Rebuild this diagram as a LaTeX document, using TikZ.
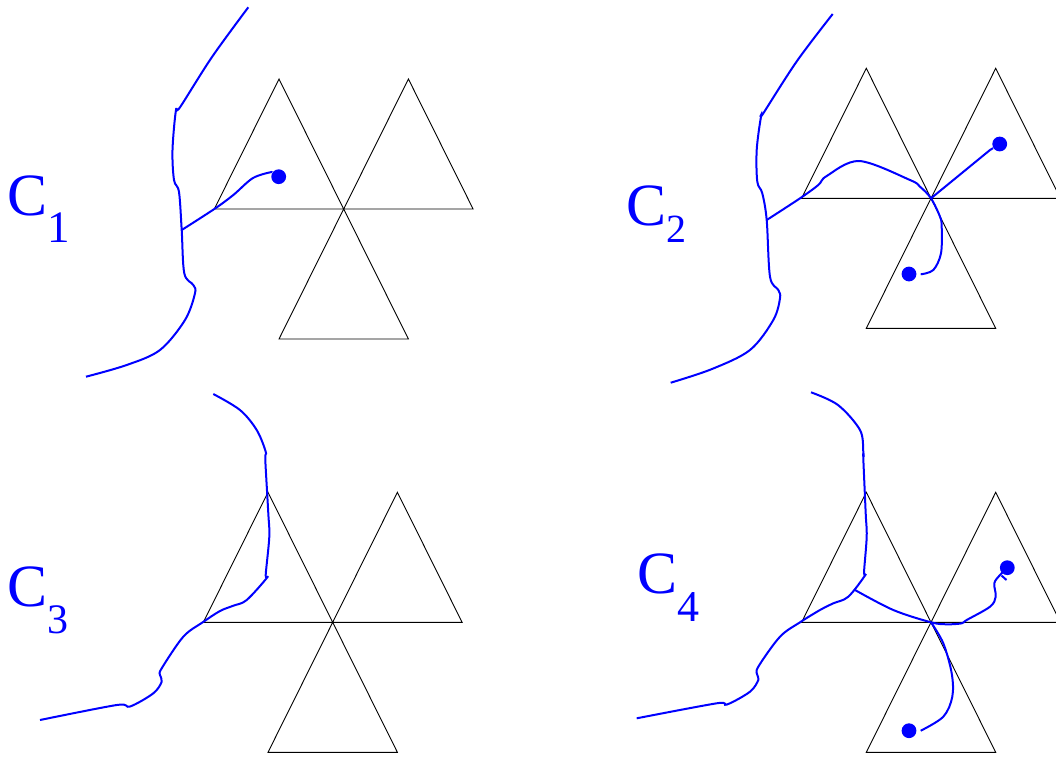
\documentclass[tikz,border=0pt]{standalone}
\usepackage{fontspec}
\setmainfont{Liberation Serif}
\usepackage{xcolor}
\usepackage{tikz}
\usetikzlibrary{positioning}

\tikzset{
  tri/.style={draw=black, line width=0.45pt, line join=miter},
  curve/.style={draw=blue, line width=1pt},
  dot/.style={circle, fill=blue, inner sep=0pt, minimum size=7.4pt},
  lbl/.style={text=blue, inner sep=0pt, anchor=base west, font=\fontsize{30}{32}\selectfont},
}
% subscript: #1 = drop, #2 = size, #3 = digit
\newcommand{\sublbl}[3]{\raisebox{-#1}{\fontsize{#2}{#2}\selectfont #3}}

\begin{document}
\begin{tikzpicture}[x=0.5pt, y=-0.5pt]
\useasboundingbox (0,0) rectangle (1056,757);

% the three triangles round each centre
\foreach \cx/\cy/\nm in {343.7/209/p1, 931/198.3/p2, 332.7/622.3/p3, 931/622.3/p4} {
    \coordinate (\nm) at (\cx,\cy);
    \draw[tri] (\cx-129.4,\cy) -- (\cx-64.7,\cy-130) -- (\cx,\cy) -- cycle;
    \draw[tri] (\cx,\cy) -- (\cx+64.7,\cy-130) -- (\cx+129.4,\cy) -- cycle;
    \draw[tri] (\cx,\cy) -- (\cx+64.7,\cy+130) -- (\cx-64.7,\cy+130) -- cycle;
}

% labels
\node[lbl] (c1) at (7,215) {C\sublbl{13.5pt}{22.5}{1}};
\node[lbl] (c2) at (626,225) {C\sublbl{8.8pt}{20}{2}};
\node[lbl] (c3) at (7,606.7) {C\sublbl{13.3pt}{21}{3}};
\node[lbl] (c4) at (637,593) {C\sublbl{14.3pt}{22}{4}};

% C_1
\node[dot] (d1) at (278.7,176.7) {};
\draw[curve] plot[smooth, tension=0.55] coordinates {(248.3,7.3) (212,57) (180,107.3) (176,110)
    (172.5,150) (174,180) (179,192) (181.7,230) (184.3,273.3) (193.3,285) (195,293.3)
    (185,320) (160,350) (126.7,365) (86,376.7)};
\draw[curve] plot[smooth, tension=0.55] coordinates {(181.7,230) (214.3,209) (233.3,195)
    (253,178) (271.7,172)} -- (d1);

% C_2
\node[dot] (d2a) at (999.7,144) {};
\node[dot] (d2b) at (909,274) {};
\draw[curve] plot[smooth, tension=0.55] coordinates {(832.7,14) (797,61) (763.3,113.3) (761,116.7)
    (756.7,150) (757.3,181.7) (762.3,193.3) (766.7,220) (770,276.7) (778.3,290) (780,298.3)
    (773.3,320) (750,350) (712,369) (670.7,382.7)};
\draw[curve] plot[smooth, tension=0.55] coordinates {(766.7,220) (800,198.3) (818.3,185)
    (826.7,176) (859.3,161) (910,180) (920,186.7) (931,198.3) (940,216.7) (941.7,226.7)
    (941,253.3) (933.3,270) (920.7,274.3)};
\draw[curve] (p2) -- (990,150) -- (d2a);

% C_3
\draw[curve] plot[smooth, tension=0.55] coordinates {(213.3,394) (240,410) (256.7,430)
    (265.7,451.7) (265.3,460) (268.3,513.3) (269.3,536.7) (265.7,575) (267.3,577.3)
    (246.7,600) (233.3,605.7) (220,611) (202.7,622.3) (183.3,636.7) (161.7,668.3) (160,675)
    (161.7,681.7) (153.3,693.3) (130,706.5) (116.7,705) (40,720)};

% C_4
\node[dot] (d4a) at (1007.3,567.7) {};
\node[dot] (d4b) at (909,730.7) {};
\draw[curve] plot[smooth, tension=0.55] coordinates {(811,392.3) (838,405) (860,430)
    (863.3,451.7) (863.3,458.3) (865.7,513.3) (866.7,536.7) (864,572.7) (865.3,575)
    (848.3,596.7) (833.3,603.3) (820,610) (800,622.3) (780,636.7) (758.3,666.7) (757.3,675)
    (758.3,680) (750,691.7) (727,704.5) (716.7,703.3) (636.7,718.3)};
\draw[curve] plot[smooth, tension=0.55] coordinates {(855,590) (893.3,610) (931,622.3)
    (946.7,624.3) (961.7,623.3) (966.7,620) (990,606.7) (995.7,596.7) (994.3,583.3)
    (1000,575) (d4a)};
\draw[curve] (1001.5,575.5) -- (1006.5,580);
\draw[curve] plot[smooth, tension=0.55] coordinates {(p4) (943.3,643.3) (951.7,673.3)
    (952.3,696.7) (943.3,716.7) (920.7,730.7)};
\end{tikzpicture}
\end{document}
